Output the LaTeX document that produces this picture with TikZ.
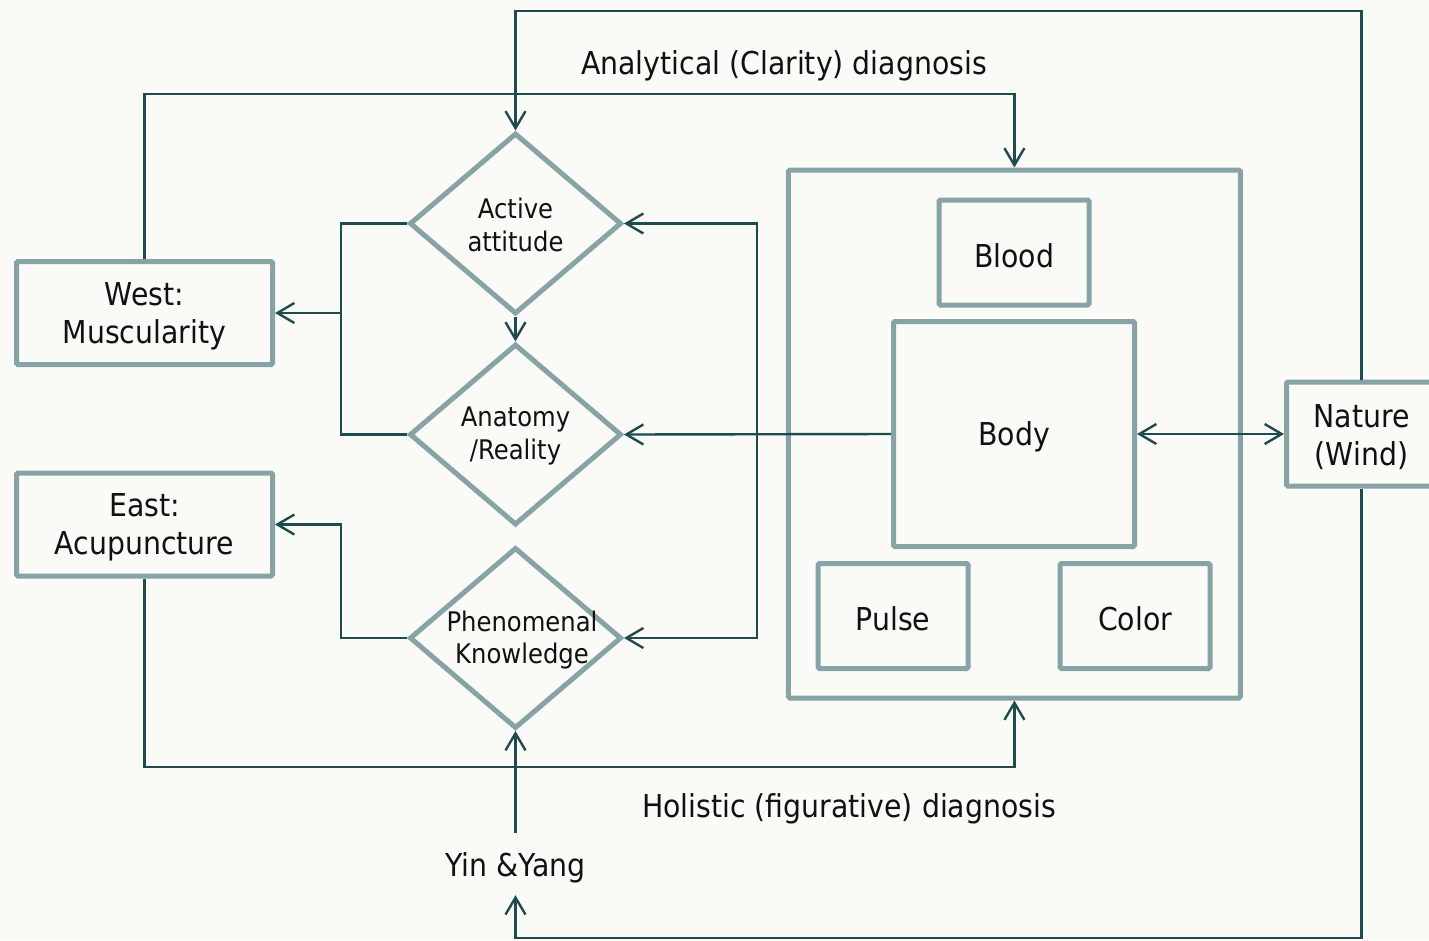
\documentclass[tikz,border=0pt]{standalone}
\usepackage{fontspec}
\setmainfont{DejaVu Sans}[FakeStretch=0.9]
\usetikzlibrary{arrows.meta,shapes.geometric}
\definecolor{bg}{HTML}{FAFAF6}
\definecolor{boxline}{HTML}{88A3A6}
\definecolor{wirecol}{HTML}{1F4B4E}
\definecolor{ink}{HTML}{111111}
\newcommand\mainlabel{\fontsize{31.5}{38}\selectfont}
\newcommand\diamlabel{\fontsize{27}{32.5}\selectfont}
\tikzset{
  lbl/.style={text=ink, align=center, font=\mainlabel, inner sep=0pt, yshift=-3pt},
  box/.style={draw=boxline, line width=5pt, rounded corners=1.5pt,
    minimum width=150pt, minimum height=105pt, inner sep=0pt},
  boxtext/.style={label={[lbl]center:{#1}}},
  diam/.style={diamond, draw=boxline, line width=5pt,
    minimum width=212pt, minimum height=181pt, inner sep=0pt},
  dtext/.style={text=ink, align=center, font=\diamlabel, inner sep=0pt},
  plain/.style={text=ink, align=center, font=\mainlabel, inner sep=0pt},
  wire/.style={draw=wirecol, line width=2.4pt},
  >={Straight Barb[length=17pt,width=20pt]},
}
\begin{document}
\begin{tikzpicture}[x=1pt,y=-1pt]
  \useasboundingbox (0,0) rectangle (1429,940);
  \fill[bg] (0,0) rectangle (1429,940);

  % left column: the two traditions
  \node[box, minimum width=256pt, minimum height=103pt, boxtext={West:\\Muscularity}] (west) at (144.5,313) {};
  \node[box, minimum width=256pt, minimum height=103pt, boxtext={East:\\Acupuncture}] (east) at (144.5,524.5) {};

  % middle column: decisions
  \node[diam] (act) at (515.5,223.5) {};
  \node[diam] (ana) at (515.5,434.5) {};
  \node[diam] (phe) at (515.5,638) {};
  \node[dtext] at (515.5,225) {Active\\attitude};
  \node[dtext] at (515.5,436) {Anatomy\\/Reality};
  \node[dtext] at (522,640) {Phenomenal\\Knowledge};

  % right group: the body and its signs
  \node[box, minimum width=452pt, minimum height=528pt] (outer) at (1014.4,434) {};
  \node[box, boxtext=Blood] (blood) at (1014,252.5) {};
  \node[box, minimum width=241pt, minimum height=225pt, boxtext=Body] (body) at (1014,434) {};
  \node[box, boxtext=Pulse] (pulse) at (893,616) {};
  \node[box, boxtext=Color] (color) at (1135,616) {};
  \node[box, minimum height=104pt, boxtext={Nature\\(Wind)}] (nat) at (1361.5,434) {};

  % free-standing labels
  \node[plain, minimum height=62pt] (yy) at (515.5,864) {};
  \node[plain, yshift=-4pt] at (yy) {Yin \&Yang};
  \node[plain] (analab) at (784,66) {Analytical (Clarity) diagnosis};
  \node[plain] (hollab) at (849,809) {Holistic (figurative) diagnosis};

  % routing levels and columns
  \coordinate (looptop) at (0,11);
  \coordinate (loopbot) at (0,938);
  \coordinate (anaY) at (0,94);
  \coordinate (holY) at (0,767);
  \coordinate (lb) at (341,0);
  \coordinate (rb) at (757,0);

  % outer loop from nature
  \draw[wire,->] (nat.north) |- (act.north |- looptop) -- (act.north);
  \draw[wire,->] (nat.south) |- (yy.south |- loopbot) -- (yy.south);

  % diagnosis routes
  \draw[wire,->] (west.north) |- (outer.north |- anaY) -- (outer.north);
  \draw[wire,->] (east.south) |- (outer.south |- holY) -- (outer.south);

  % middle links
  \draw[wire,->] (act.south) -- (ana.north);
  \draw[wire,->] (yy.north) -- (phe.south);
  \draw[wire] (act.west) -| (lb |- ana.west) -- (ana.west);
  \draw[wire,->] (lb |- west.east) -- (west.east);
  \draw[wire,->] (phe.west) -| (lb |- east.east) -- (east.east);

  % from the body
  \draw[wire,->] (body.west) -- (ana.east);
  \draw[wire,->] (rb |- ana.east) |- (act.east);
  \draw[wire,->] (rb |- ana.east) |- (phe.east);
  \draw[wire,<->] (body.east) -- (nat.west);
\end{tikzpicture}
\end{document}
